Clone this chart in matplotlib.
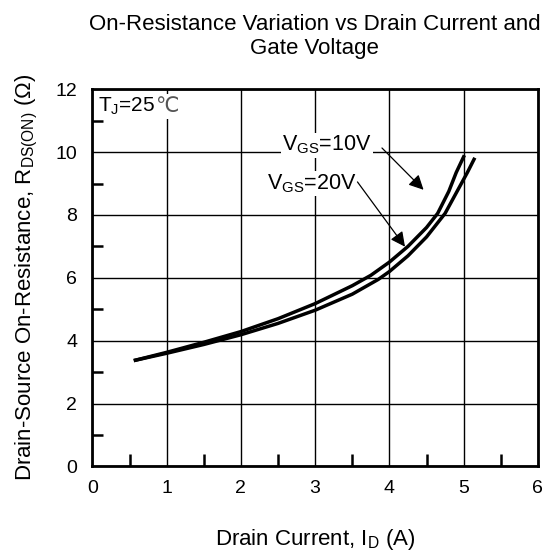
import matplotlib
matplotlib.use("Agg")
import matplotlib.pyplot as plt
from matplotlib.ticker import MultipleLocator

plt.rcParams["font.family"] = ["Liberation Sans", "DejaVu Sans"]
plt.rcParams["mathtext.fontset"] = "custom"
plt.rcParams["mathtext.rm"] = "Liberation Sans"
plt.rcParams["mathtext.it"] = "Liberation Sans:italic"

# curves: drain current (A) vs on-resistance (ohm)
id_vgs20 = [0.58, 1.0, 1.5, 2.0, 2.5, 3.0, 3.5, 3.75, 4.0, 4.25, 4.5, 4.65, 4.8, 4.9, 5.0]
rds_vgs20 = [3.38, 3.63, 3.95, 4.29, 4.70, 5.18, 5.75, 6.08, 6.50, 7.0, 7.6, 8.05, 8.75, 9.35, 9.85]

id_vgs10 = [0.58, 1.0, 1.5, 2.0, 2.5, 3.0, 3.5, 3.85, 4.0, 4.25, 4.5, 4.75, 4.9, 5.05, 5.14]
rds_vgs10 = [3.38, 3.60, 3.88, 4.19, 4.55, 4.97, 5.48, 5.95, 6.2, 6.7, 7.3, 8.05, 8.7, 9.35, 9.77]

x_ticks = [0, 1, 2, 3, 4, 5, 6]
y_ticks = [0, 2, 4, 6, 8, 10, 12]

fig = plt.figure(figsize=(5.5, 5.54), dpi=100)
ax = fig.add_axes([0.168, 0.158, 0.810, 0.681])

ax.plot(id_vgs20, rds_vgs20, color="black", lw=2.5, solid_joinstyle="round")
ax.plot(id_vgs10, rds_vgs10, color="black", lw=2.5, solid_joinstyle="round")

ax.set_xlim(0, 6)
ax.set_ylim(0, 12)
ax.set_xticks(x_ticks)
ax.set_yticks(y_ticks)
ax.xaxis.set_minor_locator(MultipleLocator(0.5))
ax.yaxis.set_minor_locator(MultipleLocator(1))
ax.tick_params(which="major", length=0, labelsize=14, pad=10)
ax.tick_params(axis="y", which="major", pad=11)
ax.tick_params(axis="x", which="minor", direction="in", length=9, width=1.8)
ax.tick_params(axis="y", which="minor", direction="in", length=8, width=1.8)
ax.grid(True, which="major", color="black", lw=1.0)
for s in ax.spines.values():
    s.set_linewidth(2.0)

ax.set_xlabel(r"Drain Current, I$_\mathrm{D}$ (A)", fontsize=16, labelpad=21)
ax.set_ylabel(r"Drain-Source On-Resistance, R$_\mathrm{DS(ON)}$ ($\Omega$)", fontsize=16, labelpad=11)
fig.suptitle("On-Resistance Variation vs Drain Current and\nGate Voltage",
             fontsize=16, x=0.572, y=0.975, linespacing=1.2)

tj = ax.text(0.07, 11.45, r"T$_\mathrm{J}$=25", fontsize=15, va="center", ha="left",
             zorder=6)
ax.annotate("℃", xy=(1, 0.5), xycoords=tj, xytext=(0, 0), textcoords="offset points",
            fontsize=15, va="center", ha="left", color="#555555", family="DejaVu Sans",
            zorder=5, bbox=dict(facecolor="white", edgecolor="none", pad=2))

ax.text(3.16, 10.22, r"V$_\mathrm{GS}$=10V", fontsize=15.5, va="center", ha="center",
        bbox=dict(facecolor="white", edgecolor="none", pad=1))
ax.text(2.95, 9.0, r"V$_\mathrm{GS}$=20V", fontsize=15.5, va="center", ha="center",
        bbox=dict(facecolor="white", edgecolor="none", pad=1))

arrow = dict(arrowstyle="-|>", mutation_scale=22, lw=0.9, color="black",
             shrinkA=0, shrinkB=0)
ax.annotate("", xy=(4.46, 8.80), xytext=(3.90, 10.13), arrowprops=arrow)
ax.annotate("", xy=(4.21, 6.99), xytext=(3.57, 9.05), arrowprops=arrow)

fig.savefig("out.png", dpi=100)
